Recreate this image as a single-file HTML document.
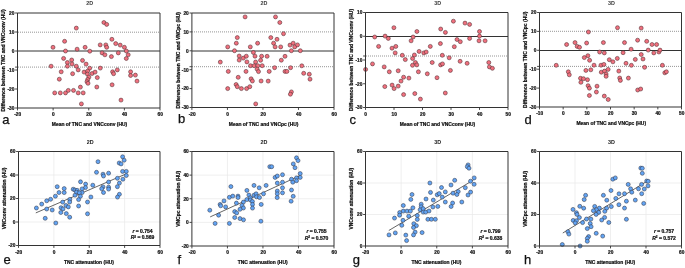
<!DOCTYPE html>
<html><head><meta charset="utf-8"><style>
html,body{margin:0;padding:0;background:#fff;width:685px;height:268px;overflow:hidden}
svg{display:block;will-change:transform}
text{font-family:"Liberation Sans", sans-serif;fill:#111;stroke:#111;stroke-width:0.22px}
.tk{font-size:4.75px;font-weight:bold;fill:#222}
.ttl{font-size:5.4px;font-weight:bold;fill:#3a3a3a;stroke:none}
.axt{font-size:4.95px;font-weight:bold}
.lbl{font-size:13px;fill:#111;stroke-width:0.25px}
.rt{font-size:5.0px;font-weight:bold}
</style></head><body>
<svg width="685" height="268" viewBox="0 0 685 268">
<rect width="685" height="268" fill="#fff"/>
<line x1="17.5" y1="32.2" x2="160" y2="32.2" stroke="#8a8a8a" stroke-width="0.9" stroke-dasharray="1 1" stroke-dashoffset="1.5"/>
<line x1="17.5" y1="51.0" x2="160" y2="51.0" stroke="#333" stroke-width="1"/>
<line x1="17.5" y1="67.1" x2="160" y2="67.1" stroke="#8a8a8a" stroke-width="0.9" stroke-dasharray="1 1" stroke-dashoffset="1.5"/>
<circle cx="76.3" cy="28.1" r="2.0" fill="#f0707e" stroke="#4e2c30" stroke-width="0.55"/>
<circle cx="64.6" cy="41.3" r="2.0" fill="#f0707e" stroke="#4e2c30" stroke-width="0.55"/>
<circle cx="53.0" cy="47.3" r="2.0" fill="#f0707e" stroke="#4e2c30" stroke-width="0.55"/>
<circle cx="65.5" cy="51.0" r="2.0" fill="#f0707e" stroke="#4e2c30" stroke-width="0.55"/>
<circle cx="77.1" cy="49.2" r="2.0" fill="#f0707e" stroke="#4e2c30" stroke-width="0.55"/>
<circle cx="85.1" cy="47.3" r="2.0" fill="#f0707e" stroke="#4e2c30" stroke-width="0.55"/>
<circle cx="103.9" cy="22.5" r="2.0" fill="#f0707e" stroke="#4e2c30" stroke-width="0.55"/>
<circle cx="106.7" cy="24.4" r="2.0" fill="#f0707e" stroke="#4e2c30" stroke-width="0.55"/>
<circle cx="111.9" cy="39.3" r="2.0" fill="#f0707e" stroke="#4e2c30" stroke-width="0.55"/>
<circle cx="100.2" cy="44.9" r="2.0" fill="#f0707e" stroke="#4e2c30" stroke-width="0.55"/>
<circle cx="105.8" cy="44.9" r="2.0" fill="#f0707e" stroke="#4e2c30" stroke-width="0.55"/>
<circle cx="106.7" cy="47.3" r="2.0" fill="#f0707e" stroke="#4e2c30" stroke-width="0.55"/>
<circle cx="115.7" cy="43.6" r="2.0" fill="#f0707e" stroke="#4e2c30" stroke-width="0.55"/>
<circle cx="120.2" cy="45.1" r="2.0" fill="#f0707e" stroke="#4e2c30" stroke-width="0.55"/>
<circle cx="124.4" cy="47.3" r="2.0" fill="#f0707e" stroke="#4e2c30" stroke-width="0.55"/>
<circle cx="126.3" cy="51.0" r="2.0" fill="#f0707e" stroke="#4e2c30" stroke-width="0.55"/>
<circle cx="128.2" cy="54.8" r="2.0" fill="#f0707e" stroke="#4e2c30" stroke-width="0.55"/>
<circle cx="126.3" cy="58.5" r="2.0" fill="#f0707e" stroke="#4e2c30" stroke-width="0.55"/>
<circle cx="89.8" cy="51.2" r="2.0" fill="#f0707e" stroke="#4e2c30" stroke-width="0.55"/>
<circle cx="102.1" cy="52.9" r="2.0" fill="#f0707e" stroke="#4e2c30" stroke-width="0.55"/>
<circle cx="104.9" cy="54.8" r="2.0" fill="#f0707e" stroke="#4e2c30" stroke-width="0.55"/>
<circle cx="111.4" cy="56.6" r="2.0" fill="#f0707e" stroke="#4e2c30" stroke-width="0.55"/>
<circle cx="118.3" cy="52.9" r="2.0" fill="#f0707e" stroke="#4e2c30" stroke-width="0.55"/>
<circle cx="63.6" cy="58.4" r="2.0" fill="#f0707e" stroke="#4e2c30" stroke-width="0.55"/>
<circle cx="67.4" cy="62.5" r="2.0" fill="#f0707e" stroke="#4e2c30" stroke-width="0.55"/>
<circle cx="71.7" cy="60.0" r="2.0" fill="#f0707e" stroke="#4e2c30" stroke-width="0.55"/>
<circle cx="72.0" cy="64.0" r="2.0" fill="#f0707e" stroke="#4e2c30" stroke-width="0.55"/>
<circle cx="67.4" cy="66.2" r="2.0" fill="#f0707e" stroke="#4e2c30" stroke-width="0.55"/>
<circle cx="51.1" cy="66.2" r="2.0" fill="#f0707e" stroke="#4e2c30" stroke-width="0.55"/>
<circle cx="76.3" cy="66.2" r="2.0" fill="#f0707e" stroke="#4e2c30" stroke-width="0.55"/>
<circle cx="78.2" cy="69.9" r="2.0" fill="#f0707e" stroke="#4e2c30" stroke-width="0.55"/>
<circle cx="82.5" cy="60.4" r="2.0" fill="#f0707e" stroke="#4e2c30" stroke-width="0.55"/>
<circle cx="86.1" cy="64.1" r="2.0" fill="#f0707e" stroke="#4e2c30" stroke-width="0.55"/>
<circle cx="61.2" cy="71.8" r="2.0" fill="#f0707e" stroke="#4e2c30" stroke-width="0.55"/>
<circle cx="72.6" cy="73.7" r="2.0" fill="#f0707e" stroke="#4e2c30" stroke-width="0.55"/>
<circle cx="59.3" cy="79.2" r="2.0" fill="#f0707e" stroke="#4e2c30" stroke-width="0.55"/>
<circle cx="80.4" cy="87.1" r="2.0" fill="#f0707e" stroke="#4e2c30" stroke-width="0.55"/>
<circle cx="54.7" cy="92.9" r="2.0" fill="#f0707e" stroke="#4e2c30" stroke-width="0.55"/>
<circle cx="60.3" cy="92.9" r="2.0" fill="#f0707e" stroke="#4e2c30" stroke-width="0.55"/>
<circle cx="65.5" cy="92.9" r="2.0" fill="#f0707e" stroke="#4e2c30" stroke-width="0.55"/>
<circle cx="68.3" cy="90.4" r="2.0" fill="#f0707e" stroke="#4e2c30" stroke-width="0.55"/>
<circle cx="73.5" cy="90.4" r="2.0" fill="#f0707e" stroke="#4e2c30" stroke-width="0.55"/>
<circle cx="78.2" cy="92.9" r="2.0" fill="#f0707e" stroke="#4e2c30" stroke-width="0.55"/>
<circle cx="83.2" cy="92.9" r="2.0" fill="#f0707e" stroke="#4e2c30" stroke-width="0.55"/>
<circle cx="81.4" cy="103.9" r="2.0" fill="#f0707e" stroke="#4e2c30" stroke-width="0.55"/>
<circle cx="89.7" cy="68.2" r="2.0" fill="#f0707e" stroke="#4e2c30" stroke-width="0.55"/>
<circle cx="100.3" cy="68.1" r="2.0" fill="#f0707e" stroke="#4e2c30" stroke-width="0.55"/>
<circle cx="84.1" cy="72.1" r="2.0" fill="#f0707e" stroke="#4e2c30" stroke-width="0.55"/>
<circle cx="87.7" cy="71.1" r="2.0" fill="#f0707e" stroke="#4e2c30" stroke-width="0.55"/>
<circle cx="87.4" cy="74.1" r="2.0" fill="#f0707e" stroke="#4e2c30" stroke-width="0.55"/>
<circle cx="92.1" cy="73.5" r="2.0" fill="#f0707e" stroke="#4e2c30" stroke-width="0.55"/>
<circle cx="95.1" cy="72.1" r="2.0" fill="#f0707e" stroke="#4e2c30" stroke-width="0.55"/>
<circle cx="88.9" cy="77.1" r="2.0" fill="#f0707e" stroke="#4e2c30" stroke-width="0.55"/>
<circle cx="87.7" cy="79.5" r="2.0" fill="#f0707e" stroke="#4e2c30" stroke-width="0.55"/>
<circle cx="87.0" cy="81.7" r="2.0" fill="#f0707e" stroke="#4e2c30" stroke-width="0.55"/>
<circle cx="88.0" cy="83.3" r="2.0" fill="#f0707e" stroke="#4e2c30" stroke-width="0.55"/>
<circle cx="97.3" cy="77.6" r="2.0" fill="#f0707e" stroke="#4e2c30" stroke-width="0.55"/>
<circle cx="112.6" cy="71.8" r="2.0" fill="#f0707e" stroke="#4e2c30" stroke-width="0.55"/>
<circle cx="113.6" cy="73.7" r="2.0" fill="#f0707e" stroke="#4e2c30" stroke-width="0.55"/>
<circle cx="117.3" cy="69.9" r="2.0" fill="#f0707e" stroke="#4e2c30" stroke-width="0.55"/>
<circle cx="130.6" cy="71.8" r="2.0" fill="#f0707e" stroke="#4e2c30" stroke-width="0.55"/>
<circle cx="130.6" cy="75.5" r="2.0" fill="#f0707e" stroke="#4e2c30" stroke-width="0.55"/>
<circle cx="135.4" cy="75.1" r="2.0" fill="#f0707e" stroke="#4e2c30" stroke-width="0.55"/>
<circle cx="137.0" cy="81.1" r="2.0" fill="#f0707e" stroke="#4e2c30" stroke-width="0.55"/>
<circle cx="112.1" cy="84.8" r="2.0" fill="#f0707e" stroke="#4e2c30" stroke-width="0.55"/>
<circle cx="96.8" cy="87.0" r="2.0" fill="#f0707e" stroke="#4e2c30" stroke-width="0.55"/>
<circle cx="121.0" cy="100.1" r="2.0" fill="#f0707e" stroke="#4e2c30" stroke-width="0.55"/>
<path d="M17.5 13H160V108H17.5Z" fill="none" stroke="#333" stroke-width="1"/>
<line x1="17.5" y1="108" x2="17.5" y2="110.4" stroke="#333" stroke-width="0.9"/>
<text x="17.7" y="116.2" class="tk" text-anchor="middle">-20</text>
<line x1="53.12" y1="108" x2="53.12" y2="110.4" stroke="#333" stroke-width="0.9"/>
<text x="53.33" y="116.2" class="tk" text-anchor="middle">0</text>
<line x1="88.75" y1="108" x2="88.75" y2="110.4" stroke="#333" stroke-width="0.9"/>
<text x="88.95" y="116.2" class="tk" text-anchor="middle">20</text>
<line x1="124.38" y1="108" x2="124.38" y2="110.4" stroke="#333" stroke-width="0.9"/>
<text x="124.58" y="116.2" class="tk" text-anchor="middle">40</text>
<line x1="160" y1="108" x2="160" y2="110.4" stroke="#333" stroke-width="0.9"/>
<text x="160.2" y="116.2" class="tk" text-anchor="middle">60</text>
<line x1="15.1" y1="67.1" x2="17.5" y2="67.1" stroke="#333" stroke-width="0.9"/>
<line x1="15.1" y1="108" x2="17.5" y2="108" stroke="#333" stroke-width="0.9"/>
<text x="14.3" y="109.85" class="tk" text-anchor="end">-30</text>
<line x1="15.1" y1="89" x2="17.5" y2="89" stroke="#333" stroke-width="0.9"/>
<text x="14.3" y="90.85" class="tk" text-anchor="end">-20</text>
<line x1="15.1" y1="70" x2="17.5" y2="70" stroke="#333" stroke-width="0.9"/>
<text x="14.3" y="71.85" class="tk" text-anchor="end">-10</text>
<line x1="15.1" y1="51" x2="17.5" y2="51" stroke="#333" stroke-width="0.9"/>
<text x="14.3" y="52.85" class="tk" text-anchor="end">0</text>
<line x1="15.1" y1="32" x2="17.5" y2="32" stroke="#333" stroke-width="0.9"/>
<text x="14.3" y="33.85" class="tk" text-anchor="end">10</text>
<line x1="15.1" y1="13" x2="17.5" y2="13" stroke="#333" stroke-width="0.9"/>
<text x="14.3" y="14.85" class="tk" text-anchor="end">20</text>
<text x="89.65" y="5.3" class="ttl" text-anchor="middle">2D</text>
<text x="89.5" y="126.1" class="axt" text-anchor="middle">Mean of TNC and VNCconv (HU)</text>
<text transform="translate(5.2,60.5) rotate(-90)" class="axt" text-anchor="middle">Difference between TNC and VNCconv (HU)</text>
<text x="2.3" y="123.6" class="lbl">a</text>
<line x1="191.9" y1="31.9" x2="334" y2="31.9" stroke="#8a8a8a" stroke-width="0.9" stroke-dasharray="1 1" stroke-dashoffset="1.9"/>
<line x1="191.9" y1="51.0" x2="334" y2="51.0" stroke="#333" stroke-width="1"/>
<line x1="191.9" y1="66.7" x2="334" y2="66.7" stroke="#8a8a8a" stroke-width="0.9" stroke-dasharray="1 1" stroke-dashoffset="1.9"/>
<circle cx="245.1" cy="16.9" r="2.0" fill="#f0707e" stroke="#4e2c30" stroke-width="0.55"/>
<circle cx="237.3" cy="37.6" r="2.0" fill="#f0707e" stroke="#4e2c30" stroke-width="0.55"/>
<circle cx="236.3" cy="43.2" r="2.0" fill="#f0707e" stroke="#4e2c30" stroke-width="0.55"/>
<circle cx="227.7" cy="46.9" r="2.0" fill="#f0707e" stroke="#4e2c30" stroke-width="0.55"/>
<circle cx="234.5" cy="50.7" r="2.0" fill="#f0707e" stroke="#4e2c30" stroke-width="0.55"/>
<circle cx="250.3" cy="46.9" r="2.0" fill="#f0707e" stroke="#4e2c30" stroke-width="0.55"/>
<circle cx="257.6" cy="43.2" r="2.0" fill="#f0707e" stroke="#4e2c30" stroke-width="0.55"/>
<circle cx="253.4" cy="52.5" r="2.0" fill="#f0707e" stroke="#4e2c30" stroke-width="0.55"/>
<circle cx="239.2" cy="56.0" r="2.0" fill="#f0707e" stroke="#4e2c30" stroke-width="0.55"/>
<circle cx="239.2" cy="60.1" r="2.0" fill="#f0707e" stroke="#4e2c30" stroke-width="0.55"/>
<circle cx="243.3" cy="58.1" r="2.0" fill="#f0707e" stroke="#4e2c30" stroke-width="0.55"/>
<circle cx="246.3" cy="56.2" r="2.0" fill="#f0707e" stroke="#4e2c30" stroke-width="0.55"/>
<circle cx="246.9" cy="61.9" r="2.0" fill="#f0707e" stroke="#4e2c30" stroke-width="0.55"/>
<circle cx="255.0" cy="56.2" r="2.0" fill="#f0707e" stroke="#4e2c30" stroke-width="0.55"/>
<circle cx="261.6" cy="56.2" r="2.0" fill="#f0707e" stroke="#4e2c30" stroke-width="0.55"/>
<circle cx="260.6" cy="60.3" r="2.0" fill="#f0707e" stroke="#4e2c30" stroke-width="0.55"/>
<circle cx="255.6" cy="62.0" r="2.0" fill="#f0707e" stroke="#4e2c30" stroke-width="0.55"/>
<circle cx="250.5" cy="65.7" r="2.0" fill="#f0707e" stroke="#4e2c30" stroke-width="0.55"/>
<circle cx="254.1" cy="65.7" r="2.0" fill="#f0707e" stroke="#4e2c30" stroke-width="0.55"/>
<circle cx="257.8" cy="65.7" r="2.0" fill="#f0707e" stroke="#4e2c30" stroke-width="0.55"/>
<circle cx="262.2" cy="65.7" r="2.0" fill="#f0707e" stroke="#4e2c30" stroke-width="0.55"/>
<circle cx="257.1" cy="69.1" r="2.0" fill="#f0707e" stroke="#4e2c30" stroke-width="0.55"/>
<circle cx="258.5" cy="71.6" r="2.0" fill="#f0707e" stroke="#4e2c30" stroke-width="0.55"/>
<circle cx="246.0" cy="71.4" r="2.0" fill="#f0707e" stroke="#4e2c30" stroke-width="0.55"/>
<circle cx="238.2" cy="77.3" r="2.0" fill="#f0707e" stroke="#4e2c30" stroke-width="0.55"/>
<circle cx="251.1" cy="78.8" r="2.0" fill="#f0707e" stroke="#4e2c30" stroke-width="0.55"/>
<circle cx="252.4" cy="81.0" r="2.0" fill="#f0707e" stroke="#4e2c30" stroke-width="0.55"/>
<circle cx="261.1" cy="81.0" r="2.0" fill="#f0707e" stroke="#4e2c30" stroke-width="0.55"/>
<circle cx="220.3" cy="62.1" r="2.0" fill="#f0707e" stroke="#4e2c30" stroke-width="0.55"/>
<circle cx="228.3" cy="71.4" r="2.0" fill="#f0707e" stroke="#4e2c30" stroke-width="0.55"/>
<circle cx="236.1" cy="84.5" r="2.0" fill="#f0707e" stroke="#4e2c30" stroke-width="0.55"/>
<circle cx="237.3" cy="86.7" r="2.0" fill="#f0707e" stroke="#4e2c30" stroke-width="0.55"/>
<circle cx="241.4" cy="88.6" r="2.0" fill="#f0707e" stroke="#4e2c30" stroke-width="0.55"/>
<circle cx="246.6" cy="88.6" r="2.0" fill="#f0707e" stroke="#4e2c30" stroke-width="0.55"/>
<circle cx="249.8" cy="86.7" r="2.0" fill="#f0707e" stroke="#4e2c30" stroke-width="0.55"/>
<circle cx="227.7" cy="88.6" r="2.0" fill="#f0707e" stroke="#4e2c30" stroke-width="0.55"/>
<circle cx="255.7" cy="103.9" r="2.0" fill="#f0707e" stroke="#4e2c30" stroke-width="0.55"/>
<circle cx="275.5" cy="16.9" r="2.0" fill="#f0707e" stroke="#4e2c30" stroke-width="0.55"/>
<circle cx="279.8" cy="22.5" r="2.0" fill="#f0707e" stroke="#4e2c30" stroke-width="0.55"/>
<circle cx="283.5" cy="33.7" r="2.0" fill="#f0707e" stroke="#4e2c30" stroke-width="0.55"/>
<circle cx="270.8" cy="37.6" r="2.0" fill="#f0707e" stroke="#4e2c30" stroke-width="0.55"/>
<circle cx="277.0" cy="39.3" r="2.0" fill="#f0707e" stroke="#4e2c30" stroke-width="0.55"/>
<circle cx="273.6" cy="43.2" r="2.0" fill="#f0707e" stroke="#4e2c30" stroke-width="0.55"/>
<circle cx="275.1" cy="46.9" r="2.0" fill="#f0707e" stroke="#4e2c30" stroke-width="0.55"/>
<circle cx="280.7" cy="46.9" r="2.0" fill="#f0707e" stroke="#4e2c30" stroke-width="0.55"/>
<circle cx="290.0" cy="45.1" r="2.0" fill="#f0707e" stroke="#4e2c30" stroke-width="0.55"/>
<circle cx="293.2" cy="43.2" r="2.0" fill="#f0707e" stroke="#4e2c30" stroke-width="0.55"/>
<circle cx="294.7" cy="46.9" r="2.0" fill="#f0707e" stroke="#4e2c30" stroke-width="0.55"/>
<circle cx="297.5" cy="44.9" r="2.0" fill="#f0707e" stroke="#4e2c30" stroke-width="0.55"/>
<circle cx="291.4" cy="50.7" r="2.0" fill="#f0707e" stroke="#4e2c30" stroke-width="0.55"/>
<circle cx="300.3" cy="50.7" r="2.0" fill="#f0707e" stroke="#4e2c30" stroke-width="0.55"/>
<circle cx="267.1" cy="56.3" r="2.0" fill="#f0707e" stroke="#4e2c30" stroke-width="0.55"/>
<circle cx="285.0" cy="56.3" r="2.0" fill="#f0707e" stroke="#4e2c30" stroke-width="0.55"/>
<circle cx="281.3" cy="60.2" r="2.0" fill="#f0707e" stroke="#4e2c30" stroke-width="0.55"/>
<circle cx="274.6" cy="67.7" r="2.0" fill="#f0707e" stroke="#4e2c30" stroke-width="0.55"/>
<circle cx="269.2" cy="71.4" r="2.0" fill="#f0707e" stroke="#4e2c30" stroke-width="0.55"/>
<circle cx="285.0" cy="71.4" r="2.0" fill="#f0707e" stroke="#4e2c30" stroke-width="0.55"/>
<circle cx="286.9" cy="71.4" r="2.0" fill="#f0707e" stroke="#4e2c30" stroke-width="0.55"/>
<circle cx="290.6" cy="67.7" r="2.0" fill="#f0707e" stroke="#4e2c30" stroke-width="0.55"/>
<circle cx="301.8" cy="65.8" r="2.0" fill="#f0707e" stroke="#4e2c30" stroke-width="0.55"/>
<circle cx="303.7" cy="73.3" r="2.0" fill="#f0707e" stroke="#4e2c30" stroke-width="0.55"/>
<circle cx="309.3" cy="74.2" r="2.0" fill="#f0707e" stroke="#4e2c30" stroke-width="0.55"/>
<circle cx="310.0" cy="79.2" r="2.0" fill="#f0707e" stroke="#4e2c30" stroke-width="0.55"/>
<circle cx="268.2" cy="81.1" r="2.0" fill="#f0707e" stroke="#4e2c30" stroke-width="0.55"/>
<circle cx="291.4" cy="91.9" r="2.0" fill="#f0707e" stroke="#4e2c30" stroke-width="0.55"/>
<circle cx="290.4" cy="94.2" r="2.0" fill="#f0707e" stroke="#4e2c30" stroke-width="0.55"/>
<path d="M191.9 13H334V107.5H191.9Z" fill="none" stroke="#333" stroke-width="1"/>
<line x1="191.9" y1="107.5" x2="191.9" y2="109.9" stroke="#333" stroke-width="0.9"/>
<text x="192.1" y="115.7" class="tk" text-anchor="middle">-20</text>
<line x1="227.43" y1="107.5" x2="227.43" y2="109.9" stroke="#333" stroke-width="0.9"/>
<text x="227.62" y="115.7" class="tk" text-anchor="middle">0</text>
<line x1="262.95" y1="107.5" x2="262.95" y2="109.9" stroke="#333" stroke-width="0.9"/>
<text x="263.15" y="115.7" class="tk" text-anchor="middle">20</text>
<line x1="298.48" y1="107.5" x2="298.48" y2="109.9" stroke="#333" stroke-width="0.9"/>
<text x="298.68" y="115.7" class="tk" text-anchor="middle">40</text>
<line x1="334" y1="107.5" x2="334" y2="109.9" stroke="#333" stroke-width="0.9"/>
<text x="334.2" y="115.7" class="tk" text-anchor="middle">60</text>
<line x1="189.5" y1="66.7" x2="191.9" y2="66.7" stroke="#333" stroke-width="0.9"/>
<line x1="189.5" y1="107.5" x2="191.9" y2="107.5" stroke="#333" stroke-width="0.9"/>
<text x="188.7" y="109.35" class="tk" text-anchor="end">-30</text>
<line x1="189.5" y1="88.6" x2="191.9" y2="88.6" stroke="#333" stroke-width="0.9"/>
<text x="188.7" y="90.45" class="tk" text-anchor="end">-20</text>
<line x1="189.5" y1="69.7" x2="191.9" y2="69.7" stroke="#333" stroke-width="0.9"/>
<text x="188.7" y="71.55" class="tk" text-anchor="end">-10</text>
<line x1="189.5" y1="50.8" x2="191.9" y2="50.8" stroke="#333" stroke-width="0.9"/>
<text x="188.7" y="52.65" class="tk" text-anchor="end">0</text>
<line x1="189.5" y1="31.9" x2="191.9" y2="31.9" stroke="#333" stroke-width="0.9"/>
<text x="188.7" y="33.75" class="tk" text-anchor="end">10</text>
<line x1="189.5" y1="13" x2="191.9" y2="13" stroke="#333" stroke-width="0.9"/>
<text x="188.7" y="14.85" class="tk" text-anchor="end">20</text>
<text x="263.85" y="5.3" class="ttl" text-anchor="middle">2D</text>
<text x="263.7" y="125.6" class="axt" text-anchor="middle">Mean of TNC and VNCpc (HU)</text>
<text transform="translate(179.6,60.25) rotate(-90)" class="axt" text-anchor="middle">Difference between TNC and VNCpc (HU)</text>
<text x="178.0" y="123.0" class="lbl">b</text>
<line x1="365.5" y1="36.5" x2="508" y2="36.5" stroke="#333" stroke-width="1"/>
<line x1="365.5" y1="56.0" x2="508" y2="56.0" stroke="#8a8a8a" stroke-width="0.9" stroke-dasharray="1 1" stroke-dashoffset="1.5"/>
<circle cx="393.9" cy="27.7" r="2.0" fill="#f0707e" stroke="#4e2c30" stroke-width="0.55"/>
<circle cx="374.7" cy="37.0" r="2.0" fill="#f0707e" stroke="#4e2c30" stroke-width="0.55"/>
<circle cx="385.1" cy="36.1" r="2.0" fill="#f0707e" stroke="#4e2c30" stroke-width="0.55"/>
<circle cx="388.3" cy="38.4" r="2.0" fill="#f0707e" stroke="#4e2c30" stroke-width="0.55"/>
<circle cx="378.6" cy="46.4" r="2.0" fill="#f0707e" stroke="#4e2c30" stroke-width="0.55"/>
<circle cx="392.0" cy="48.2" r="2.0" fill="#f0707e" stroke="#4e2c30" stroke-width="0.55"/>
<circle cx="395.8" cy="46.4" r="2.0" fill="#f0707e" stroke="#4e2c30" stroke-width="0.55"/>
<circle cx="395.2" cy="52.9" r="2.0" fill="#f0707e" stroke="#4e2c30" stroke-width="0.55"/>
<circle cx="402.3" cy="55.3" r="2.0" fill="#f0707e" stroke="#4e2c30" stroke-width="0.55"/>
<circle cx="405.3" cy="59.6" r="2.0" fill="#f0707e" stroke="#4e2c30" stroke-width="0.55"/>
<circle cx="416.9" cy="31.5" r="2.0" fill="#f0707e" stroke="#4e2c30" stroke-width="0.55"/>
<circle cx="413.1" cy="37.0" r="2.0" fill="#f0707e" stroke="#4e2c30" stroke-width="0.55"/>
<circle cx="411.1" cy="40.8" r="2.0" fill="#f0707e" stroke="#4e2c30" stroke-width="0.55"/>
<circle cx="430.3" cy="46.4" r="2.0" fill="#f0707e" stroke="#4e2c30" stroke-width="0.55"/>
<circle cx="419.1" cy="51.4" r="2.0" fill="#f0707e" stroke="#4e2c30" stroke-width="0.55"/>
<circle cx="423.8" cy="52.9" r="2.0" fill="#f0707e" stroke="#4e2c30" stroke-width="0.55"/>
<circle cx="426.2" cy="52.0" r="2.0" fill="#f0707e" stroke="#4e2c30" stroke-width="0.55"/>
<circle cx="414.4" cy="55.0" r="2.0" fill="#f0707e" stroke="#4e2c30" stroke-width="0.55"/>
<circle cx="412.6" cy="58.5" r="2.0" fill="#f0707e" stroke="#4e2c30" stroke-width="0.55"/>
<circle cx="453.4" cy="21.2" r="2.0" fill="#f0707e" stroke="#4e2c30" stroke-width="0.55"/>
<circle cx="465.0" cy="23.1" r="2.0" fill="#f0707e" stroke="#4e2c30" stroke-width="0.55"/>
<circle cx="469.6" cy="24.4" r="2.0" fill="#f0707e" stroke="#4e2c30" stroke-width="0.55"/>
<circle cx="440.7" cy="29.0" r="2.0" fill="#f0707e" stroke="#4e2c30" stroke-width="0.55"/>
<circle cx="445.4" cy="32.4" r="2.0" fill="#f0707e" stroke="#4e2c30" stroke-width="0.55"/>
<circle cx="479.5" cy="31.5" r="2.0" fill="#f0707e" stroke="#4e2c30" stroke-width="0.55"/>
<circle cx="479.5" cy="36.1" r="2.0" fill="#f0707e" stroke="#4e2c30" stroke-width="0.55"/>
<circle cx="479.0" cy="40.8" r="2.0" fill="#f0707e" stroke="#4e2c30" stroke-width="0.55"/>
<circle cx="485.1" cy="40.8" r="2.0" fill="#f0707e" stroke="#4e2c30" stroke-width="0.55"/>
<circle cx="469.6" cy="38.4" r="2.0" fill="#f0707e" stroke="#4e2c30" stroke-width="0.55"/>
<circle cx="457.0" cy="39.5" r="2.0" fill="#f0707e" stroke="#4e2c30" stroke-width="0.55"/>
<circle cx="460.3" cy="41.7" r="2.0" fill="#f0707e" stroke="#4e2c30" stroke-width="0.55"/>
<circle cx="440.4" cy="43.6" r="2.0" fill="#f0707e" stroke="#4e2c30" stroke-width="0.55"/>
<circle cx="454.3" cy="46.7" r="2.0" fill="#f0707e" stroke="#4e2c30" stroke-width="0.55"/>
<circle cx="442.3" cy="55.3" r="2.0" fill="#f0707e" stroke="#4e2c30" stroke-width="0.55"/>
<circle cx="449.2" cy="57.8" r="2.0" fill="#f0707e" stroke="#4e2c30" stroke-width="0.55"/>
<circle cx="365.6" cy="69.4" r="2.0" fill="#f0707e" stroke="#4e2c30" stroke-width="0.55"/>
<circle cx="372.5" cy="63.9" r="2.0" fill="#f0707e" stroke="#4e2c30" stroke-width="0.55"/>
<circle cx="384.2" cy="66.9" r="2.0" fill="#f0707e" stroke="#4e2c30" stroke-width="0.55"/>
<circle cx="389.3" cy="71.8" r="2.0" fill="#f0707e" stroke="#4e2c30" stroke-width="0.55"/>
<circle cx="398.2" cy="70.8" r="2.0" fill="#f0707e" stroke="#4e2c30" stroke-width="0.55"/>
<circle cx="415.4" cy="62.5" r="2.0" fill="#f0707e" stroke="#4e2c30" stroke-width="0.55"/>
<circle cx="416.8" cy="64.9" r="2.0" fill="#f0707e" stroke="#4e2c30" stroke-width="0.55"/>
<circle cx="412.5" cy="65.3" r="2.0" fill="#f0707e" stroke="#4e2c30" stroke-width="0.55"/>
<circle cx="432.2" cy="62.5" r="2.0" fill="#f0707e" stroke="#4e2c30" stroke-width="0.55"/>
<circle cx="418.4" cy="71.8" r="2.0" fill="#f0707e" stroke="#4e2c30" stroke-width="0.55"/>
<circle cx="427.3" cy="73.8" r="2.0" fill="#f0707e" stroke="#4e2c30" stroke-width="0.55"/>
<circle cx="437.0" cy="77.7" r="2.0" fill="#f0707e" stroke="#4e2c30" stroke-width="0.55"/>
<circle cx="403.6" cy="77.2" r="2.0" fill="#f0707e" stroke="#4e2c30" stroke-width="0.55"/>
<circle cx="408.9" cy="78.1" r="2.0" fill="#f0707e" stroke="#4e2c30" stroke-width="0.55"/>
<circle cx="401.0" cy="81.1" r="2.0" fill="#f0707e" stroke="#4e2c30" stroke-width="0.55"/>
<circle cx="392.1" cy="85.1" r="2.0" fill="#f0707e" stroke="#4e2c30" stroke-width="0.55"/>
<circle cx="398.2" cy="86.1" r="2.0" fill="#f0707e" stroke="#4e2c30" stroke-width="0.55"/>
<circle cx="394.1" cy="88.6" r="2.0" fill="#f0707e" stroke="#4e2c30" stroke-width="0.55"/>
<circle cx="384.8" cy="86.6" r="2.0" fill="#f0707e" stroke="#4e2c30" stroke-width="0.55"/>
<circle cx="403.6" cy="94.6" r="2.0" fill="#f0707e" stroke="#4e2c30" stroke-width="0.55"/>
<circle cx="414.8" cy="93.6" r="2.0" fill="#f0707e" stroke="#4e2c30" stroke-width="0.55"/>
<circle cx="420.4" cy="99.1" r="2.0" fill="#f0707e" stroke="#4e2c30" stroke-width="0.55"/>
<circle cx="440.6" cy="64.9" r="2.0" fill="#f0707e" stroke="#4e2c30" stroke-width="0.55"/>
<circle cx="442.5" cy="63.9" r="2.0" fill="#f0707e" stroke="#4e2c30" stroke-width="0.55"/>
<circle cx="460.1" cy="61.3" r="2.0" fill="#f0707e" stroke="#4e2c30" stroke-width="0.55"/>
<circle cx="467.1" cy="63.3" r="2.0" fill="#f0707e" stroke="#4e2c30" stroke-width="0.55"/>
<circle cx="450.4" cy="70.4" r="2.0" fill="#f0707e" stroke="#4e2c30" stroke-width="0.55"/>
<circle cx="488.8" cy="62.5" r="2.0" fill="#f0707e" stroke="#4e2c30" stroke-width="0.55"/>
<circle cx="489.4" cy="66.9" r="2.0" fill="#f0707e" stroke="#4e2c30" stroke-width="0.55"/>
<circle cx="492.4" cy="68.3" r="2.0" fill="#f0707e" stroke="#4e2c30" stroke-width="0.55"/>
<circle cx="445.3" cy="93.0" r="2.0" fill="#f0707e" stroke="#4e2c30" stroke-width="0.55"/>
<path d="M365.5 12.5H508V107.5H365.5Z" fill="none" stroke="#333" stroke-width="1"/>
<line x1="365.5" y1="107.5" x2="365.5" y2="109.9" stroke="#333" stroke-width="0.9"/>
<text x="365.7" y="115.7" class="tk" text-anchor="middle">0</text>
<line x1="394" y1="107.5" x2="394" y2="109.9" stroke="#333" stroke-width="0.9"/>
<text x="394.2" y="115.7" class="tk" text-anchor="middle">10</text>
<line x1="422.5" y1="107.5" x2="422.5" y2="109.9" stroke="#333" stroke-width="0.9"/>
<text x="422.7" y="115.7" class="tk" text-anchor="middle">20</text>
<line x1="451" y1="107.5" x2="451" y2="109.9" stroke="#333" stroke-width="0.9"/>
<text x="451.2" y="115.7" class="tk" text-anchor="middle">30</text>
<line x1="479.5" y1="107.5" x2="479.5" y2="109.9" stroke="#333" stroke-width="0.9"/>
<text x="479.7" y="115.7" class="tk" text-anchor="middle">40</text>
<line x1="508" y1="107.5" x2="508" y2="109.9" stroke="#333" stroke-width="0.9"/>
<text x="508.2" y="115.7" class="tk" text-anchor="middle">50</text>
<line x1="363.1" y1="56.0" x2="365.5" y2="56.0" stroke="#333" stroke-width="0.9"/>
<line x1="363.1" y1="107.5" x2="365.5" y2="107.5" stroke="#333" stroke-width="0.9"/>
<text x="362.3" y="109.35" class="tk" text-anchor="end">-30</text>
<line x1="363.1" y1="83.75" x2="365.5" y2="83.75" stroke="#333" stroke-width="0.9"/>
<text x="362.3" y="85.6" class="tk" text-anchor="end">-20</text>
<line x1="363.1" y1="60" x2="365.5" y2="60" stroke="#333" stroke-width="0.9"/>
<text x="362.3" y="61.85" class="tk" text-anchor="end">-10</text>
<line x1="363.1" y1="36.25" x2="365.5" y2="36.25" stroke="#333" stroke-width="0.9"/>
<text x="362.3" y="38.1" class="tk" text-anchor="end">0</text>
<line x1="363.1" y1="12.5" x2="365.5" y2="12.5" stroke="#333" stroke-width="0.9"/>
<text x="362.3" y="14.35" class="tk" text-anchor="end">10</text>
<text x="437.65" y="4.8" class="ttl" text-anchor="middle">3D</text>
<text x="437.5" y="125.6" class="axt" text-anchor="middle">Mean of TNC and VNCconv (HU)</text>
<text transform="translate(353.2,60) rotate(-90)" class="axt" text-anchor="middle">Difference between TNC and VNCconv (HU)</text>
<text x="349.6" y="123.6" class="lbl">c</text>
<line x1="539.5" y1="31.3" x2="681.5" y2="31.3" stroke="#8a8a8a" stroke-width="0.9" stroke-dasharray="1 1" stroke-dashoffset="1.5"/>
<line x1="539.5" y1="50.5" x2="681.5" y2="50.5" stroke="#333" stroke-width="1"/>
<line x1="539.5" y1="66.4" x2="681.5" y2="66.4" stroke="#8a8a8a" stroke-width="0.9" stroke-dasharray="1 1" stroke-dashoffset="1.5"/>
<circle cx="588.4" cy="32.0" r="2.0" fill="#f0707e" stroke="#4e2c30" stroke-width="0.55"/>
<circle cx="566.6" cy="44.5" r="2.0" fill="#f0707e" stroke="#4e2c30" stroke-width="0.55"/>
<circle cx="575.0" cy="42.6" r="2.0" fill="#f0707e" stroke="#4e2c30" stroke-width="0.55"/>
<circle cx="577.2" cy="46.4" r="2.0" fill="#f0707e" stroke="#4e2c30" stroke-width="0.55"/>
<circle cx="579.5" cy="47.3" r="2.0" fill="#f0707e" stroke="#4e2c30" stroke-width="0.55"/>
<circle cx="586.6" cy="43.0" r="2.0" fill="#f0707e" stroke="#4e2c30" stroke-width="0.55"/>
<circle cx="603.4" cy="42.6" r="2.0" fill="#f0707e" stroke="#4e2c30" stroke-width="0.55"/>
<circle cx="599.6" cy="52.0" r="2.0" fill="#f0707e" stroke="#4e2c30" stroke-width="0.55"/>
<circle cx="604.3" cy="52.9" r="2.0" fill="#f0707e" stroke="#4e2c30" stroke-width="0.55"/>
<circle cx="587.9" cy="55.7" r="2.0" fill="#f0707e" stroke="#4e2c30" stroke-width="0.55"/>
<circle cx="584.3" cy="57.6" r="2.0" fill="#f0707e" stroke="#4e2c30" stroke-width="0.55"/>
<circle cx="589.6" cy="60.3" r="2.0" fill="#f0707e" stroke="#4e2c30" stroke-width="0.55"/>
<circle cx="617.5" cy="27.7" r="2.0" fill="#f0707e" stroke="#4e2c30" stroke-width="0.55"/>
<circle cx="641.2" cy="28.1" r="2.0" fill="#f0707e" stroke="#4e2c30" stroke-width="0.55"/>
<circle cx="624.5" cy="42.6" r="2.0" fill="#f0707e" stroke="#4e2c30" stroke-width="0.55"/>
<circle cx="637.6" cy="40.2" r="2.0" fill="#f0707e" stroke="#4e2c30" stroke-width="0.55"/>
<circle cx="646.7" cy="41.3" r="2.0" fill="#f0707e" stroke="#4e2c30" stroke-width="0.55"/>
<circle cx="652.0" cy="44.5" r="2.0" fill="#f0707e" stroke="#4e2c30" stroke-width="0.55"/>
<circle cx="656.6" cy="44.5" r="2.0" fill="#f0707e" stroke="#4e2c30" stroke-width="0.55"/>
<circle cx="631.1" cy="49.2" r="2.0" fill="#f0707e" stroke="#4e2c30" stroke-width="0.55"/>
<circle cx="623.1" cy="52.7" r="2.0" fill="#f0707e" stroke="#4e2c30" stroke-width="0.55"/>
<circle cx="648.2" cy="50.1" r="2.0" fill="#f0707e" stroke="#4e2c30" stroke-width="0.55"/>
<circle cx="653.8" cy="52.9" r="2.0" fill="#f0707e" stroke="#4e2c30" stroke-width="0.55"/>
<circle cx="658.9" cy="52.0" r="2.0" fill="#f0707e" stroke="#4e2c30" stroke-width="0.55"/>
<circle cx="660.0" cy="50.1" r="2.0" fill="#f0707e" stroke="#4e2c30" stroke-width="0.55"/>
<circle cx="641.2" cy="54.5" r="2.0" fill="#f0707e" stroke="#4e2c30" stroke-width="0.55"/>
<circle cx="617.3" cy="58.4" r="2.0" fill="#f0707e" stroke="#4e2c30" stroke-width="0.55"/>
<circle cx="635.3" cy="59.4" r="2.0" fill="#f0707e" stroke="#4e2c30" stroke-width="0.55"/>
<circle cx="643.0" cy="59.0" r="2.0" fill="#f0707e" stroke="#4e2c30" stroke-width="0.55"/>
<circle cx="556.2" cy="65.3" r="2.0" fill="#f0707e" stroke="#4e2c30" stroke-width="0.55"/>
<circle cx="568.3" cy="71.8" r="2.0" fill="#f0707e" stroke="#4e2c30" stroke-width="0.55"/>
<circle cx="569.3" cy="74.8" r="2.0" fill="#f0707e" stroke="#4e2c30" stroke-width="0.55"/>
<circle cx="594.0" cy="65.2" r="2.0" fill="#f0707e" stroke="#4e2c30" stroke-width="0.55"/>
<circle cx="585.9" cy="70.4" r="2.0" fill="#f0707e" stroke="#4e2c30" stroke-width="0.55"/>
<circle cx="590.8" cy="69.8" r="2.0" fill="#f0707e" stroke="#4e2c30" stroke-width="0.55"/>
<circle cx="580.5" cy="78.3" r="2.0" fill="#f0707e" stroke="#4e2c30" stroke-width="0.55"/>
<circle cx="583.5" cy="78.7" r="2.0" fill="#f0707e" stroke="#4e2c30" stroke-width="0.55"/>
<circle cx="587.5" cy="79.7" r="2.0" fill="#f0707e" stroke="#4e2c30" stroke-width="0.55"/>
<circle cx="580.9" cy="82.3" r="2.0" fill="#f0707e" stroke="#4e2c30" stroke-width="0.55"/>
<circle cx="588.1" cy="85.7" r="2.0" fill="#f0707e" stroke="#4e2c30" stroke-width="0.55"/>
<circle cx="589.4" cy="88.2" r="2.0" fill="#f0707e" stroke="#4e2c30" stroke-width="0.55"/>
<circle cx="597.0" cy="86.2" r="2.0" fill="#f0707e" stroke="#4e2c30" stroke-width="0.55"/>
<circle cx="596.4" cy="92.0" r="2.0" fill="#f0707e" stroke="#4e2c30" stroke-width="0.55"/>
<circle cx="589.4" cy="95.5" r="2.0" fill="#f0707e" stroke="#4e2c30" stroke-width="0.55"/>
<circle cx="604.3" cy="96.1" r="2.0" fill="#f0707e" stroke="#4e2c30" stroke-width="0.55"/>
<circle cx="608.2" cy="99.5" r="2.0" fill="#f0707e" stroke="#4e2c30" stroke-width="0.55"/>
<circle cx="609.3" cy="59.7" r="2.0" fill="#f0707e" stroke="#4e2c30" stroke-width="0.55"/>
<circle cx="612.9" cy="61.8" r="2.0" fill="#f0707e" stroke="#4e2c30" stroke-width="0.55"/>
<circle cx="626.0" cy="63.3" r="2.0" fill="#f0707e" stroke="#4e2c30" stroke-width="0.55"/>
<circle cx="601.0" cy="65.2" r="2.0" fill="#f0707e" stroke="#4e2c30" stroke-width="0.55"/>
<circle cx="603.9" cy="64.4" r="2.0" fill="#f0707e" stroke="#4e2c30" stroke-width="0.55"/>
<circle cx="601.3" cy="72.2" r="2.0" fill="#f0707e" stroke="#4e2c30" stroke-width="0.55"/>
<circle cx="604.5" cy="71.1" r="2.0" fill="#f0707e" stroke="#4e2c30" stroke-width="0.55"/>
<circle cx="608.1" cy="69.4" r="2.0" fill="#f0707e" stroke="#4e2c30" stroke-width="0.55"/>
<circle cx="606.1" cy="74.1" r="2.0" fill="#f0707e" stroke="#4e2c30" stroke-width="0.55"/>
<circle cx="606.1" cy="76.3" r="2.0" fill="#f0707e" stroke="#4e2c30" stroke-width="0.55"/>
<circle cx="618.8" cy="71.1" r="2.0" fill="#f0707e" stroke="#4e2c30" stroke-width="0.55"/>
<circle cx="619.7" cy="78.0" r="2.0" fill="#f0707e" stroke="#4e2c30" stroke-width="0.55"/>
<circle cx="620.4" cy="80.4" r="2.0" fill="#f0707e" stroke="#4e2c30" stroke-width="0.55"/>
<circle cx="631.4" cy="65.3" r="2.0" fill="#f0707e" stroke="#4e2c30" stroke-width="0.55"/>
<circle cx="644.6" cy="67.3" r="2.0" fill="#f0707e" stroke="#4e2c30" stroke-width="0.55"/>
<circle cx="662.4" cy="65.3" r="2.0" fill="#f0707e" stroke="#4e2c30" stroke-width="0.55"/>
<circle cx="664.8" cy="72.8" r="2.0" fill="#f0707e" stroke="#4e2c30" stroke-width="0.55"/>
<circle cx="666.4" cy="71.8" r="2.0" fill="#f0707e" stroke="#4e2c30" stroke-width="0.55"/>
<circle cx="628.4" cy="78.1" r="2.0" fill="#f0707e" stroke="#4e2c30" stroke-width="0.55"/>
<circle cx="637.7" cy="90.0" r="2.0" fill="#f0707e" stroke="#4e2c30" stroke-width="0.55"/>
<circle cx="640.7" cy="89.0" r="2.0" fill="#f0707e" stroke="#4e2c30" stroke-width="0.55"/>
<path d="M539.5 12.5H681.5V107H539.5Z" fill="none" stroke="#333" stroke-width="1"/>
<line x1="539.5" y1="107" x2="539.5" y2="109.4" stroke="#333" stroke-width="0.9"/>
<text x="539.7" y="115.2" class="tk" text-anchor="middle">-10</text>
<line x1="563.17" y1="107" x2="563.17" y2="109.4" stroke="#333" stroke-width="0.9"/>
<text x="563.37" y="115.2" class="tk" text-anchor="middle">0</text>
<line x1="586.83" y1="107" x2="586.83" y2="109.4" stroke="#333" stroke-width="0.9"/>
<text x="587.03" y="115.2" class="tk" text-anchor="middle">10</text>
<line x1="610.5" y1="107" x2="610.5" y2="109.4" stroke="#333" stroke-width="0.9"/>
<text x="610.7" y="115.2" class="tk" text-anchor="middle">20</text>
<line x1="634.17" y1="107" x2="634.17" y2="109.4" stroke="#333" stroke-width="0.9"/>
<text x="634.37" y="115.2" class="tk" text-anchor="middle">30</text>
<line x1="657.83" y1="107" x2="657.83" y2="109.4" stroke="#333" stroke-width="0.9"/>
<text x="658.03" y="115.2" class="tk" text-anchor="middle">40</text>
<line x1="681.5" y1="107" x2="681.5" y2="109.4" stroke="#333" stroke-width="0.9"/>
<text x="681.7" y="115.2" class="tk" text-anchor="middle">50</text>
<line x1="537.1" y1="66.4" x2="539.5" y2="66.4" stroke="#333" stroke-width="0.9"/>
<line x1="537.1" y1="107" x2="539.5" y2="107" stroke="#333" stroke-width="0.9"/>
<text x="536.3" y="108.85" class="tk" text-anchor="end">-30</text>
<line x1="537.1" y1="88.1" x2="539.5" y2="88.1" stroke="#333" stroke-width="0.9"/>
<text x="536.3" y="89.95" class="tk" text-anchor="end">-20</text>
<line x1="537.1" y1="69.2" x2="539.5" y2="69.2" stroke="#333" stroke-width="0.9"/>
<text x="536.3" y="71.05" class="tk" text-anchor="end">-10</text>
<line x1="537.1" y1="50.3" x2="539.5" y2="50.3" stroke="#333" stroke-width="0.9"/>
<text x="536.3" y="52.15" class="tk" text-anchor="end">0</text>
<line x1="537.1" y1="31.4" x2="539.5" y2="31.4" stroke="#333" stroke-width="0.9"/>
<text x="536.3" y="33.25" class="tk" text-anchor="end">10</text>
<line x1="537.1" y1="12.5" x2="539.5" y2="12.5" stroke="#333" stroke-width="0.9"/>
<text x="536.3" y="14.35" class="tk" text-anchor="end">20</text>
<text x="611.4" y="4.8" class="ttl" text-anchor="middle">3D</text>
<text x="611.25" y="125.1" class="axt" text-anchor="middle">Mean of TNC and VNCpc (HU)</text>
<text transform="translate(527.2,59.75) rotate(-90)" class="axt" text-anchor="middle">Difference between TNC and VNCpc (HU)</text>
<text x="524.5" y="123.6" class="lbl">d</text>
<line x1="53.88" y1="151.5" x2="53.88" y2="245.5" stroke="#e8e8e8" stroke-width="0.7"/>
<line x1="89.25" y1="151.5" x2="89.25" y2="245.5" stroke="#e8e8e8" stroke-width="0.7"/>
<line x1="124.62" y1="151.5" x2="124.62" y2="245.5" stroke="#e8e8e8" stroke-width="0.7"/>
<line x1="18.5" y1="222" x2="160" y2="222" stroke="#e8e8e8" stroke-width="0.7"/>
<line x1="18.5" y1="198.5" x2="160" y2="198.5" stroke="#e8e8e8" stroke-width="0.7"/>
<line x1="18.5" y1="175" x2="160" y2="175" stroke="#e8e8e8" stroke-width="0.7"/>
<line x1="35.8" y1="212.9" x2="125.2" y2="174.3" stroke="#222" stroke-width="0.7"/>
<circle cx="80.5" cy="181.8" r="2.0" fill="#62a4f4" stroke="#33394a" stroke-width="0.55"/>
<circle cx="85.6" cy="184.1" r="2.0" fill="#62a4f4" stroke="#33394a" stroke-width="0.55"/>
<circle cx="92.8" cy="185.2" r="2.0" fill="#62a4f4" stroke="#33394a" stroke-width="0.55"/>
<circle cx="85.5" cy="187.6" r="2.0" fill="#62a4f4" stroke="#33394a" stroke-width="0.55"/>
<circle cx="57.2" cy="186.7" r="2.0" fill="#62a4f4" stroke="#33394a" stroke-width="0.55"/>
<circle cx="64.2" cy="188.6" r="2.0" fill="#62a4f4" stroke="#33394a" stroke-width="0.55"/>
<circle cx="64.2" cy="192.6" r="2.0" fill="#62a4f4" stroke="#33394a" stroke-width="0.55"/>
<circle cx="59.0" cy="192.5" r="2.0" fill="#62a4f4" stroke="#33394a" stroke-width="0.55"/>
<circle cx="55.4" cy="196.2" r="2.0" fill="#62a4f4" stroke="#33394a" stroke-width="0.55"/>
<circle cx="73.2" cy="189.2" r="2.0" fill="#62a4f4" stroke="#33394a" stroke-width="0.55"/>
<circle cx="74.9" cy="190.0" r="2.0" fill="#62a4f4" stroke="#33394a" stroke-width="0.55"/>
<circle cx="77.1" cy="190.3" r="2.0" fill="#62a4f4" stroke="#33394a" stroke-width="0.55"/>
<circle cx="82.1" cy="188.9" r="2.0" fill="#62a4f4" stroke="#33394a" stroke-width="0.55"/>
<circle cx="76.5" cy="192.2" r="2.0" fill="#62a4f4" stroke="#33394a" stroke-width="0.55"/>
<circle cx="82.1" cy="192.6" r="2.0" fill="#62a4f4" stroke="#33394a" stroke-width="0.55"/>
<circle cx="79.3" cy="192.8" r="2.0" fill="#62a4f4" stroke="#33394a" stroke-width="0.55"/>
<circle cx="75.0" cy="195.2" r="2.0" fill="#62a4f4" stroke="#33394a" stroke-width="0.55"/>
<circle cx="80.4" cy="196.3" r="2.0" fill="#62a4f4" stroke="#33394a" stroke-width="0.55"/>
<circle cx="90.9" cy="197.0" r="2.0" fill="#62a4f4" stroke="#33394a" stroke-width="0.55"/>
<circle cx="78.6" cy="199.6" r="2.0" fill="#62a4f4" stroke="#33394a" stroke-width="0.55"/>
<circle cx="87.5" cy="202.0" r="2.0" fill="#62a4f4" stroke="#33394a" stroke-width="0.55"/>
<circle cx="69.8" cy="199.4" r="2.0" fill="#62a4f4" stroke="#33394a" stroke-width="0.55"/>
<circle cx="69.7" cy="202.0" r="2.0" fill="#62a4f4" stroke="#33394a" stroke-width="0.55"/>
<circle cx="62.7" cy="202.1" r="2.0" fill="#62a4f4" stroke="#33394a" stroke-width="0.55"/>
<circle cx="66.0" cy="205.5" r="2.0" fill="#62a4f4" stroke="#33394a" stroke-width="0.55"/>
<circle cx="78.6" cy="206.0" r="2.0" fill="#62a4f4" stroke="#33394a" stroke-width="0.55"/>
<circle cx="36.4" cy="208.0" r="2.0" fill="#62a4f4" stroke="#33394a" stroke-width="0.55"/>
<circle cx="41.7" cy="204.1" r="2.0" fill="#62a4f4" stroke="#33394a" stroke-width="0.55"/>
<circle cx="46.7" cy="200.8" r="2.0" fill="#62a4f4" stroke="#33394a" stroke-width="0.55"/>
<circle cx="50.6" cy="199.3" r="2.0" fill="#62a4f4" stroke="#33394a" stroke-width="0.55"/>
<circle cx="46.7" cy="209.0" r="2.0" fill="#62a4f4" stroke="#33394a" stroke-width="0.55"/>
<circle cx="52.2" cy="210.0" r="2.0" fill="#62a4f4" stroke="#33394a" stroke-width="0.55"/>
<circle cx="45.2" cy="218.3" r="2.0" fill="#62a4f4" stroke="#33394a" stroke-width="0.55"/>
<circle cx="55.8" cy="223.0" r="2.0" fill="#62a4f4" stroke="#33394a" stroke-width="0.55"/>
<circle cx="61.0" cy="207.7" r="2.0" fill="#62a4f4" stroke="#33394a" stroke-width="0.55"/>
<circle cx="63.0" cy="208.9" r="2.0" fill="#62a4f4" stroke="#33394a" stroke-width="0.55"/>
<circle cx="68.3" cy="206.9" r="2.0" fill="#62a4f4" stroke="#33394a" stroke-width="0.55"/>
<circle cx="60.8" cy="212.5" r="2.0" fill="#62a4f4" stroke="#33394a" stroke-width="0.55"/>
<circle cx="66.3" cy="213.6" r="2.0" fill="#62a4f4" stroke="#33394a" stroke-width="0.55"/>
<circle cx="69.7" cy="217.2" r="2.0" fill="#62a4f4" stroke="#33394a" stroke-width="0.55"/>
<circle cx="87.5" cy="213.8" r="2.0" fill="#62a4f4" stroke="#33394a" stroke-width="0.55"/>
<circle cx="122.6" cy="156.8" r="2.0" fill="#62a4f4" stroke="#33394a" stroke-width="0.55"/>
<circle cx="124.1" cy="160.2" r="2.0" fill="#62a4f4" stroke="#33394a" stroke-width="0.55"/>
<circle cx="119.2" cy="163.0" r="2.0" fill="#62a4f4" stroke="#33394a" stroke-width="0.55"/>
<circle cx="121.1" cy="163.9" r="2.0" fill="#62a4f4" stroke="#33394a" stroke-width="0.55"/>
<circle cx="98.0" cy="161.7" r="2.0" fill="#62a4f4" stroke="#33394a" stroke-width="0.55"/>
<circle cx="96.5" cy="172.3" r="2.0" fill="#62a4f4" stroke="#33394a" stroke-width="0.55"/>
<circle cx="103.0" cy="174.2" r="2.0" fill="#62a4f4" stroke="#33394a" stroke-width="0.55"/>
<circle cx="103.5" cy="176.0" r="2.0" fill="#62a4f4" stroke="#33394a" stroke-width="0.55"/>
<circle cx="108.6" cy="173.2" r="2.0" fill="#62a4f4" stroke="#33394a" stroke-width="0.55"/>
<circle cx="122.6" cy="171.4" r="2.0" fill="#62a4f4" stroke="#33394a" stroke-width="0.55"/>
<circle cx="126.3" cy="171.4" r="2.0" fill="#62a4f4" stroke="#33394a" stroke-width="0.55"/>
<circle cx="126.3" cy="175.5" r="2.0" fill="#62a4f4" stroke="#33394a" stroke-width="0.55"/>
<circle cx="117.4" cy="178.3" r="2.0" fill="#62a4f4" stroke="#33394a" stroke-width="0.55"/>
<circle cx="122.9" cy="179.2" r="2.0" fill="#62a4f4" stroke="#33394a" stroke-width="0.55"/>
<circle cx="108.6" cy="182.0" r="2.0" fill="#62a4f4" stroke="#33394a" stroke-width="0.55"/>
<circle cx="119.4" cy="183.1" r="2.0" fill="#62a4f4" stroke="#33394a" stroke-width="0.55"/>
<circle cx="117.4" cy="186.7" r="2.0" fill="#62a4f4" stroke="#33394a" stroke-width="0.55"/>
<circle cx="103.0" cy="186.9" r="2.0" fill="#62a4f4" stroke="#33394a" stroke-width="0.55"/>
<circle cx="101.7" cy="188.7" r="2.0" fill="#62a4f4" stroke="#33394a" stroke-width="0.55"/>
<circle cx="108.6" cy="187.2" r="2.0" fill="#62a4f4" stroke="#33394a" stroke-width="0.55"/>
<circle cx="108.6" cy="189.1" r="2.0" fill="#62a4f4" stroke="#33394a" stroke-width="0.55"/>
<circle cx="103.5" cy="192.5" r="2.0" fill="#62a4f4" stroke="#33394a" stroke-width="0.55"/>
<circle cx="119.4" cy="194.3" r="2.0" fill="#62a4f4" stroke="#33394a" stroke-width="0.55"/>
<circle cx="117.5" cy="197.1" r="2.0" fill="#62a4f4" stroke="#33394a" stroke-width="0.55"/>
<path d="M18.5 151.5H160V245.5H18.5Z" fill="none" stroke="#333" stroke-width="1"/>
<line x1="18.5" y1="245.5" x2="18.5" y2="247.9" stroke="#333" stroke-width="0.9"/>
<text x="18.7" y="253.7" class="tk" text-anchor="middle">-20</text>
<line x1="53.88" y1="245.5" x2="53.88" y2="247.9" stroke="#333" stroke-width="0.9"/>
<text x="54.08" y="253.7" class="tk" text-anchor="middle">0</text>
<line x1="89.25" y1="245.5" x2="89.25" y2="247.9" stroke="#333" stroke-width="0.9"/>
<text x="89.45" y="253.7" class="tk" text-anchor="middle">20</text>
<line x1="124.62" y1="245.5" x2="124.62" y2="247.9" stroke="#333" stroke-width="0.9"/>
<text x="124.83" y="253.7" class="tk" text-anchor="middle">40</text>
<line x1="160" y1="245.5" x2="160" y2="247.9" stroke="#333" stroke-width="0.9"/>
<text x="160.2" y="253.7" class="tk" text-anchor="middle">60</text>
<line x1="16.1" y1="245.5" x2="18.5" y2="245.5" stroke="#333" stroke-width="0.9"/>
<text x="15.3" y="247.35" class="tk" text-anchor="end">-20</text>
<line x1="16.1" y1="222" x2="18.5" y2="222" stroke="#333" stroke-width="0.9"/>
<text x="15.3" y="223.85" class="tk" text-anchor="end">0</text>
<line x1="16.1" y1="198.5" x2="18.5" y2="198.5" stroke="#333" stroke-width="0.9"/>
<text x="15.3" y="200.35" class="tk" text-anchor="end">20</text>
<line x1="16.1" y1="175" x2="18.5" y2="175" stroke="#333" stroke-width="0.9"/>
<text x="15.3" y="176.85" class="tk" text-anchor="end">40</text>
<line x1="16.1" y1="151.5" x2="18.5" y2="151.5" stroke="#333" stroke-width="0.9"/>
<text x="15.3" y="153.35" class="tk" text-anchor="end">60</text>
<text x="90.15" y="143.8" class="ttl" text-anchor="middle" style="fill:#1a1a1a">2D</text>
<text x="88.95" y="263.6" class="axt" text-anchor="middle">TNC attenuation (HU)</text>
<text transform="translate(6.2,198.5) rotate(-90)" class="axt" text-anchor="middle">VNCconv attenuation (HU)</text>
<text x="3.6" y="264.3" class="lbl">e</text>
<text x="152.6" y="232.9" class="rt" text-anchor="end"><tspan font-style="italic">r</tspan> = 0.754</text>
<text x="154.3" y="239.3" class="rt" text-anchor="end"><tspan font-style="italic">R</tspan><tspan dy="-1.7" font-size="3.2">2</tspan><tspan dy="1.7"> = 0.569</tspan></text>
<line x1="227.43" y1="151.5" x2="227.43" y2="246" stroke="#e8e8e8" stroke-width="0.7"/>
<line x1="262.95" y1="151.5" x2="262.95" y2="246" stroke="#e8e8e8" stroke-width="0.7"/>
<line x1="298.48" y1="151.5" x2="298.48" y2="246" stroke="#e8e8e8" stroke-width="0.7"/>
<line x1="191.9" y1="222.38" x2="334" y2="222.38" stroke="#e8e8e8" stroke-width="0.7"/>
<line x1="191.9" y1="198.75" x2="334" y2="198.75" stroke="#e8e8e8" stroke-width="0.7"/>
<line x1="191.9" y1="175.12" x2="334" y2="175.12" stroke="#e8e8e8" stroke-width="0.7"/>
<line x1="210.2" y1="216.9" x2="299.5" y2="175.8" stroke="#222" stroke-width="0.7"/>
<circle cx="230.9" cy="186.6" r="2.0" fill="#62a4f4" stroke="#33394a" stroke-width="0.55"/>
<circle cx="254.0" cy="185.4" r="2.0" fill="#62a4f4" stroke="#33394a" stroke-width="0.55"/>
<circle cx="259.2" cy="187.8" r="2.0" fill="#62a4f4" stroke="#33394a" stroke-width="0.55"/>
<circle cx="246.9" cy="190.4" r="2.0" fill="#62a4f4" stroke="#33394a" stroke-width="0.55"/>
<circle cx="229.4" cy="197.3" r="2.0" fill="#62a4f4" stroke="#33394a" stroke-width="0.55"/>
<circle cx="232.8" cy="196.1" r="2.0" fill="#62a4f4" stroke="#33394a" stroke-width="0.55"/>
<circle cx="238.0" cy="196.1" r="2.0" fill="#62a4f4" stroke="#33394a" stroke-width="0.55"/>
<circle cx="238.0" cy="197.5" r="2.0" fill="#62a4f4" stroke="#33394a" stroke-width="0.55"/>
<circle cx="224.0" cy="200.9" r="2.0" fill="#62a4f4" stroke="#33394a" stroke-width="0.55"/>
<circle cx="225.6" cy="206.9" r="2.0" fill="#62a4f4" stroke="#33394a" stroke-width="0.55"/>
<circle cx="220.1" cy="204.4" r="2.0" fill="#62a4f4" stroke="#33394a" stroke-width="0.55"/>
<circle cx="220.7" cy="205.8" r="2.0" fill="#62a4f4" stroke="#33394a" stroke-width="0.55"/>
<circle cx="209.8" cy="210.2" r="2.0" fill="#62a4f4" stroke="#33394a" stroke-width="0.55"/>
<circle cx="218.6" cy="215.2" r="2.0" fill="#62a4f4" stroke="#33394a" stroke-width="0.55"/>
<circle cx="215.1" cy="223.4" r="2.0" fill="#62a4f4" stroke="#33394a" stroke-width="0.55"/>
<circle cx="229.4" cy="223.4" r="2.0" fill="#62a4f4" stroke="#33394a" stroke-width="0.55"/>
<circle cx="248.9" cy="195.1" r="2.0" fill="#62a4f4" stroke="#33394a" stroke-width="0.55"/>
<circle cx="250.3" cy="197.8" r="2.0" fill="#62a4f4" stroke="#33394a" stroke-width="0.55"/>
<circle cx="254.0" cy="195.2" r="2.0" fill="#62a4f4" stroke="#33394a" stroke-width="0.55"/>
<circle cx="256.1" cy="193.8" r="2.0" fill="#62a4f4" stroke="#33394a" stroke-width="0.55"/>
<circle cx="256.5" cy="196.8" r="2.0" fill="#62a4f4" stroke="#33394a" stroke-width="0.55"/>
<circle cx="259.5" cy="197.5" r="2.0" fill="#62a4f4" stroke="#33394a" stroke-width="0.55"/>
<circle cx="263.5" cy="193.8" r="2.0" fill="#62a4f4" stroke="#33394a" stroke-width="0.55"/>
<circle cx="246.8" cy="199.6" r="2.0" fill="#62a4f4" stroke="#33394a" stroke-width="0.55"/>
<circle cx="250.4" cy="200.0" r="2.0" fill="#62a4f4" stroke="#33394a" stroke-width="0.55"/>
<circle cx="252.4" cy="201.5" r="2.0" fill="#62a4f4" stroke="#33394a" stroke-width="0.55"/>
<circle cx="252.5" cy="204.4" r="2.0" fill="#62a4f4" stroke="#33394a" stroke-width="0.55"/>
<circle cx="252.5" cy="208.1" r="2.0" fill="#62a4f4" stroke="#33394a" stroke-width="0.55"/>
<circle cx="243.4" cy="202.1" r="2.0" fill="#62a4f4" stroke="#33394a" stroke-width="0.55"/>
<circle cx="242.0" cy="205.4" r="2.0" fill="#62a4f4" stroke="#33394a" stroke-width="0.55"/>
<circle cx="243.4" cy="208.0" r="2.0" fill="#62a4f4" stroke="#33394a" stroke-width="0.55"/>
<circle cx="240.0" cy="209.3" r="2.0" fill="#62a4f4" stroke="#33394a" stroke-width="0.55"/>
<circle cx="236.4" cy="203.1" r="2.0" fill="#62a4f4" stroke="#33394a" stroke-width="0.55"/>
<circle cx="261.2" cy="204.4" r="2.0" fill="#62a4f4" stroke="#33394a" stroke-width="0.55"/>
<circle cx="234.7" cy="211.6" r="2.0" fill="#62a4f4" stroke="#33394a" stroke-width="0.55"/>
<circle cx="236.7" cy="212.9" r="2.0" fill="#62a4f4" stroke="#33394a" stroke-width="0.55"/>
<circle cx="234.7" cy="217.5" r="2.0" fill="#62a4f4" stroke="#33394a" stroke-width="0.55"/>
<circle cx="240.0" cy="218.6" r="2.0" fill="#62a4f4" stroke="#33394a" stroke-width="0.55"/>
<circle cx="243.5" cy="219.8" r="2.0" fill="#62a4f4" stroke="#33394a" stroke-width="0.55"/>
<circle cx="260.9" cy="221.2" r="2.0" fill="#62a4f4" stroke="#33394a" stroke-width="0.55"/>
<circle cx="296.5" cy="157.8" r="2.0" fill="#62a4f4" stroke="#33394a" stroke-width="0.55"/>
<circle cx="298.0" cy="160.6" r="2.0" fill="#62a4f4" stroke="#33394a" stroke-width="0.55"/>
<circle cx="293.3" cy="163.9" r="2.0" fill="#62a4f4" stroke="#33394a" stroke-width="0.55"/>
<circle cx="295.0" cy="167.7" r="2.0" fill="#62a4f4" stroke="#33394a" stroke-width="0.55"/>
<circle cx="269.8" cy="166.7" r="2.0" fill="#62a4f4" stroke="#33394a" stroke-width="0.55"/>
<circle cx="271.7" cy="166.7" r="2.0" fill="#62a4f4" stroke="#33394a" stroke-width="0.55"/>
<circle cx="282.5" cy="174.7" r="2.0" fill="#62a4f4" stroke="#33394a" stroke-width="0.55"/>
<circle cx="275.1" cy="177.4" r="2.0" fill="#62a4f4" stroke="#33394a" stroke-width="0.55"/>
<circle cx="277.3" cy="176.0" r="2.0" fill="#62a4f4" stroke="#33394a" stroke-width="0.55"/>
<circle cx="300.2" cy="173.6" r="2.0" fill="#62a4f4" stroke="#33394a" stroke-width="0.55"/>
<circle cx="300.2" cy="177.4" r="2.0" fill="#62a4f4" stroke="#33394a" stroke-width="0.55"/>
<circle cx="296.5" cy="177.9" r="2.0" fill="#62a4f4" stroke="#33394a" stroke-width="0.55"/>
<circle cx="291.5" cy="179.2" r="2.0" fill="#62a4f4" stroke="#33394a" stroke-width="0.55"/>
<circle cx="292.8" cy="182.2" r="2.0" fill="#62a4f4" stroke="#33394a" stroke-width="0.55"/>
<circle cx="296.5" cy="180.7" r="2.0" fill="#62a4f4" stroke="#33394a" stroke-width="0.55"/>
<circle cx="266.1" cy="185.4" r="2.0" fill="#62a4f4" stroke="#33394a" stroke-width="0.55"/>
<circle cx="277.3" cy="183.1" r="2.0" fill="#62a4f4" stroke="#33394a" stroke-width="0.55"/>
<circle cx="282.5" cy="182.2" r="2.0" fill="#62a4f4" stroke="#33394a" stroke-width="0.55"/>
<circle cx="282.5" cy="187.8" r="2.0" fill="#62a4f4" stroke="#33394a" stroke-width="0.55"/>
<circle cx="291.5" cy="190.0" r="2.0" fill="#62a4f4" stroke="#33394a" stroke-width="0.55"/>
<circle cx="277.3" cy="191.0" r="2.0" fill="#62a4f4" stroke="#33394a" stroke-width="0.55"/>
<circle cx="277.3" cy="193.8" r="2.0" fill="#62a4f4" stroke="#33394a" stroke-width="0.55"/>
<circle cx="282.5" cy="192.8" r="2.0" fill="#62a4f4" stroke="#33394a" stroke-width="0.55"/>
<circle cx="293.2" cy="196.3" r="2.0" fill="#62a4f4" stroke="#33394a" stroke-width="0.55"/>
<circle cx="277.2" cy="197.6" r="2.0" fill="#62a4f4" stroke="#33394a" stroke-width="0.55"/>
<circle cx="291.1" cy="201.2" r="2.0" fill="#62a4f4" stroke="#33394a" stroke-width="0.55"/>
<path d="M191.9 151.5H334V246H191.9Z" fill="none" stroke="#333" stroke-width="1"/>
<line x1="191.9" y1="246" x2="191.9" y2="248.4" stroke="#333" stroke-width="0.9"/>
<text x="192.1" y="254.2" class="tk" text-anchor="middle">-20</text>
<line x1="227.43" y1="246" x2="227.43" y2="248.4" stroke="#333" stroke-width="0.9"/>
<text x="227.62" y="254.2" class="tk" text-anchor="middle">0</text>
<line x1="262.95" y1="246" x2="262.95" y2="248.4" stroke="#333" stroke-width="0.9"/>
<text x="263.15" y="254.2" class="tk" text-anchor="middle">20</text>
<line x1="298.48" y1="246" x2="298.48" y2="248.4" stroke="#333" stroke-width="0.9"/>
<text x="298.68" y="254.2" class="tk" text-anchor="middle">40</text>
<line x1="334" y1="246" x2="334" y2="248.4" stroke="#333" stroke-width="0.9"/>
<text x="334.2" y="254.2" class="tk" text-anchor="middle">60</text>
<line x1="189.5" y1="246" x2="191.9" y2="246" stroke="#333" stroke-width="0.9"/>
<text x="188.7" y="247.85" class="tk" text-anchor="end">-20</text>
<line x1="189.5" y1="222.38" x2="191.9" y2="222.38" stroke="#333" stroke-width="0.9"/>
<text x="188.7" y="224.22" class="tk" text-anchor="end">0</text>
<line x1="189.5" y1="198.75" x2="191.9" y2="198.75" stroke="#333" stroke-width="0.9"/>
<text x="188.7" y="200.6" class="tk" text-anchor="end">20</text>
<line x1="189.5" y1="175.12" x2="191.9" y2="175.12" stroke="#333" stroke-width="0.9"/>
<text x="188.7" y="176.97" class="tk" text-anchor="end">40</text>
<line x1="189.5" y1="151.5" x2="191.9" y2="151.5" stroke="#333" stroke-width="0.9"/>
<text x="188.7" y="153.35" class="tk" text-anchor="end">60</text>
<text x="263.85" y="143.8" class="ttl" text-anchor="middle" style="fill:#1a1a1a">2D</text>
<text x="262.65" y="264.1" class="axt" text-anchor="middle">TNC attenuation (HU)</text>
<text transform="translate(179.6,198.75) rotate(-90)" class="axt" text-anchor="middle">VNCpc attenuation (HU)</text>
<text x="177.5" y="264.3" class="lbl">f</text>
<text x="326.6" y="233.4" class="rt" text-anchor="end"><tspan font-style="italic">r</tspan> = 0.755</text>
<text x="328.3" y="239.8" class="rt" text-anchor="end"><tspan font-style="italic">R</tspan><tspan dy="-1.7" font-size="3.2">2</tspan><tspan dy="1.7"> = 0.570</tspan></text>
<line x1="401.12" y1="151.5" x2="401.12" y2="246" stroke="#e8e8e8" stroke-width="0.7"/>
<line x1="436.75" y1="151.5" x2="436.75" y2="246" stroke="#e8e8e8" stroke-width="0.7"/>
<line x1="472.38" y1="151.5" x2="472.38" y2="246" stroke="#e8e8e8" stroke-width="0.7"/>
<line x1="365.5" y1="214.5" x2="508" y2="214.5" stroke="#e8e8e8" stroke-width="0.7"/>
<line x1="365.5" y1="183" x2="508" y2="183" stroke="#e8e8e8" stroke-width="0.7"/>
<line x1="388.8" y1="230.5" x2="473.5" y2="180.0" stroke="#222" stroke-width="0.7"/>
<circle cx="429.9" cy="183.0" r="2.0" fill="#62a4f4" stroke="#33394a" stroke-width="0.55"/>
<circle cx="430.5" cy="192.4" r="2.0" fill="#62a4f4" stroke="#33394a" stroke-width="0.55"/>
<circle cx="412.0" cy="194.5" r="2.0" fill="#62a4f4" stroke="#33394a" stroke-width="0.55"/>
<circle cx="410.8" cy="199.4" r="2.0" fill="#62a4f4" stroke="#33394a" stroke-width="0.55"/>
<circle cx="403.3" cy="205.5" r="2.0" fill="#62a4f4" stroke="#33394a" stroke-width="0.55"/>
<circle cx="412.9" cy="207.8" r="2.0" fill="#62a4f4" stroke="#33394a" stroke-width="0.55"/>
<circle cx="399.7" cy="212.5" r="2.0" fill="#62a4f4" stroke="#33394a" stroke-width="0.55"/>
<circle cx="399.6" cy="215.2" r="2.0" fill="#62a4f4" stroke="#33394a" stroke-width="0.55"/>
<circle cx="403.3" cy="211.1" r="2.0" fill="#62a4f4" stroke="#33394a" stroke-width="0.55"/>
<circle cx="407.0" cy="211.1" r="2.0" fill="#62a4f4" stroke="#33394a" stroke-width="0.55"/>
<circle cx="410.4" cy="211.1" r="2.0" fill="#62a4f4" stroke="#33394a" stroke-width="0.55"/>
<circle cx="408.7" cy="216.2" r="2.0" fill="#62a4f4" stroke="#33394a" stroke-width="0.55"/>
<circle cx="394.5" cy="218.1" r="2.0" fill="#62a4f4" stroke="#33394a" stroke-width="0.55"/>
<circle cx="403.0" cy="220.3" r="2.0" fill="#62a4f4" stroke="#33394a" stroke-width="0.55"/>
<circle cx="437.2" cy="194.8" r="2.0" fill="#62a4f4" stroke="#33394a" stroke-width="0.55"/>
<circle cx="439.2" cy="193.6" r="2.0" fill="#62a4f4" stroke="#33394a" stroke-width="0.55"/>
<circle cx="426.0" cy="199.0" r="2.0" fill="#62a4f4" stroke="#33394a" stroke-width="0.55"/>
<circle cx="433.3" cy="200.1" r="2.0" fill="#62a4f4" stroke="#33394a" stroke-width="0.55"/>
<circle cx="421.2" cy="204.2" r="2.0" fill="#62a4f4" stroke="#33394a" stroke-width="0.55"/>
<circle cx="421.2" cy="206.8" r="2.0" fill="#62a4f4" stroke="#33394a" stroke-width="0.55"/>
<circle cx="420.1" cy="209.8" r="2.0" fill="#62a4f4" stroke="#33394a" stroke-width="0.55"/>
<circle cx="423.2" cy="208.7" r="2.0" fill="#62a4f4" stroke="#33394a" stroke-width="0.55"/>
<circle cx="423.2" cy="212.1" r="2.0" fill="#62a4f4" stroke="#33394a" stroke-width="0.55"/>
<circle cx="425.7" cy="212.1" r="2.0" fill="#62a4f4" stroke="#33394a" stroke-width="0.55"/>
<circle cx="429.0" cy="211.0" r="2.0" fill="#62a4f4" stroke="#33394a" stroke-width="0.55"/>
<circle cx="432.9" cy="207.0" r="2.0" fill="#62a4f4" stroke="#33394a" stroke-width="0.55"/>
<circle cx="437.8" cy="206.4" r="2.0" fill="#62a4f4" stroke="#33394a" stroke-width="0.55"/>
<circle cx="417.3" cy="215.6" r="2.0" fill="#62a4f4" stroke="#33394a" stroke-width="0.55"/>
<circle cx="417.3" cy="219.4" r="2.0" fill="#62a4f4" stroke="#33394a" stroke-width="0.55"/>
<circle cx="401.8" cy="225.3" r="2.0" fill="#62a4f4" stroke="#33394a" stroke-width="0.55"/>
<circle cx="413.8" cy="223.7" r="2.0" fill="#62a4f4" stroke="#33394a" stroke-width="0.55"/>
<circle cx="416.4" cy="225.7" r="2.0" fill="#62a4f4" stroke="#33394a" stroke-width="0.55"/>
<circle cx="413.5" cy="227.5" r="2.0" fill="#62a4f4" stroke="#33394a" stroke-width="0.55"/>
<circle cx="415.1" cy="232.1" r="2.0" fill="#62a4f4" stroke="#33394a" stroke-width="0.55"/>
<circle cx="413.5" cy="234.9" r="2.0" fill="#62a4f4" stroke="#33394a" stroke-width="0.55"/>
<circle cx="422.1" cy="232.6" r="2.0" fill="#62a4f4" stroke="#33394a" stroke-width="0.55"/>
<circle cx="395.3" cy="232.9" r="2.0" fill="#62a4f4" stroke="#33394a" stroke-width="0.55"/>
<circle cx="389.0" cy="234.9" r="2.0" fill="#62a4f4" stroke="#33394a" stroke-width="0.55"/>
<circle cx="405.8" cy="235.1" r="2.0" fill="#62a4f4" stroke="#33394a" stroke-width="0.55"/>
<circle cx="406.6" cy="240.6" r="2.0" fill="#62a4f4" stroke="#33394a" stroke-width="0.55"/>
<circle cx="468.1" cy="164.9" r="2.0" fill="#62a4f4" stroke="#33394a" stroke-width="0.55"/>
<circle cx="467.3" cy="166.7" r="2.0" fill="#62a4f4" stroke="#33394a" stroke-width="0.55"/>
<circle cx="469.0" cy="168.2" r="2.0" fill="#62a4f4" stroke="#33394a" stroke-width="0.55"/>
<circle cx="454.7" cy="180.3" r="2.0" fill="#62a4f4" stroke="#33394a" stroke-width="0.55"/>
<circle cx="451.0" cy="185.0" r="2.0" fill="#62a4f4" stroke="#33394a" stroke-width="0.55"/>
<circle cx="441.5" cy="187.5" r="2.0" fill="#62a4f4" stroke="#33394a" stroke-width="0.55"/>
<circle cx="445.3" cy="191.9" r="2.0" fill="#62a4f4" stroke="#33394a" stroke-width="0.55"/>
<circle cx="442.2" cy="197.1" r="2.0" fill="#62a4f4" stroke="#33394a" stroke-width="0.55"/>
<circle cx="453.0" cy="193.2" r="2.0" fill="#62a4f4" stroke="#33394a" stroke-width="0.55"/>
<circle cx="458.2" cy="191.6" r="2.0" fill="#62a4f4" stroke="#33394a" stroke-width="0.55"/>
<circle cx="456.9" cy="194.5" r="2.0" fill="#62a4f4" stroke="#33394a" stroke-width="0.55"/>
<circle cx="465.3" cy="187.7" r="2.0" fill="#62a4f4" stroke="#33394a" stroke-width="0.55"/>
<circle cx="474.2" cy="177.9" r="2.0" fill="#62a4f4" stroke="#33394a" stroke-width="0.55"/>
<circle cx="470.5" cy="181.2" r="2.0" fill="#62a4f4" stroke="#33394a" stroke-width="0.55"/>
<circle cx="474.1" cy="184.3" r="2.0" fill="#62a4f4" stroke="#33394a" stroke-width="0.55"/>
<circle cx="470.6" cy="192.1" r="2.0" fill="#62a4f4" stroke="#33394a" stroke-width="0.55"/>
<circle cx="468.0" cy="195.0" r="2.0" fill="#62a4f4" stroke="#33394a" stroke-width="0.55"/>
<circle cx="445.3" cy="202.0" r="2.0" fill="#62a4f4" stroke="#33394a" stroke-width="0.55"/>
<circle cx="452.6" cy="203.0" r="2.0" fill="#62a4f4" stroke="#33394a" stroke-width="0.55"/>
<circle cx="451.1" cy="206.5" r="2.0" fill="#62a4f4" stroke="#33394a" stroke-width="0.55"/>
<circle cx="461.8" cy="202.0" r="2.0" fill="#62a4f4" stroke="#33394a" stroke-width="0.55"/>
<circle cx="427.9" cy="219.3" r="2.0" fill="#62a4f4" stroke="#33394a" stroke-width="0.55"/>
<circle cx="431.4" cy="219.3" r="2.0" fill="#62a4f4" stroke="#33394a" stroke-width="0.55"/>
<circle cx="435.3" cy="219.3" r="2.0" fill="#62a4f4" stroke="#33394a" stroke-width="0.55"/>
<path d="M365.5 151.5H508V246H365.5Z" fill="none" stroke="#333" stroke-width="1"/>
<line x1="365.5" y1="246" x2="365.5" y2="248.4" stroke="#333" stroke-width="0.9"/>
<text x="365.7" y="254.2" class="tk" text-anchor="middle">-20</text>
<line x1="401.12" y1="246" x2="401.12" y2="248.4" stroke="#333" stroke-width="0.9"/>
<text x="401.32" y="254.2" class="tk" text-anchor="middle">0</text>
<line x1="436.75" y1="246" x2="436.75" y2="248.4" stroke="#333" stroke-width="0.9"/>
<text x="436.95" y="254.2" class="tk" text-anchor="middle">20</text>
<line x1="472.38" y1="246" x2="472.38" y2="248.4" stroke="#333" stroke-width="0.9"/>
<text x="472.57" y="254.2" class="tk" text-anchor="middle">40</text>
<line x1="508" y1="246" x2="508" y2="248.4" stroke="#333" stroke-width="0.9"/>
<text x="508.2" y="254.2" class="tk" text-anchor="middle">60</text>
<line x1="363.1" y1="246" x2="365.5" y2="246" stroke="#333" stroke-width="0.9"/>
<text x="362.3" y="247.85" class="tk" text-anchor="end">0</text>
<line x1="363.1" y1="214.5" x2="365.5" y2="214.5" stroke="#333" stroke-width="0.9"/>
<text x="362.3" y="216.35" class="tk" text-anchor="end">20</text>
<line x1="363.1" y1="183" x2="365.5" y2="183" stroke="#333" stroke-width="0.9"/>
<text x="362.3" y="184.85" class="tk" text-anchor="end">40</text>
<line x1="363.1" y1="151.5" x2="365.5" y2="151.5" stroke="#333" stroke-width="0.9"/>
<text x="362.3" y="153.35" class="tk" text-anchor="end">60</text>
<text x="437.65" y="143.8" class="ttl" text-anchor="middle" style="fill:#1a1a1a">3D</text>
<text x="436.45" y="264.1" class="axt" text-anchor="middle">TNC attenuation (HU)</text>
<text transform="translate(353.2,198.75) rotate(-90)" class="axt" text-anchor="middle">VNCconv attenuation (HU)</text>
<text x="352.7" y="264.3" class="lbl">g</text>
<text x="500.6" y="233.4" class="rt" text-anchor="end"><tspan font-style="italic">r</tspan> = 0.799</text>
<text x="502.3" y="239.8" class="rt" text-anchor="end"><tspan font-style="italic">R</tspan><tspan dy="-1.7" font-size="3.2">2</tspan><tspan dy="1.7"> = 0.638</tspan></text>
<line x1="575" y1="151.5" x2="575" y2="246" stroke="#e8e8e8" stroke-width="0.7"/>
<line x1="610.5" y1="151.5" x2="610.5" y2="246" stroke="#e8e8e8" stroke-width="0.7"/>
<line x1="646" y1="151.5" x2="646" y2="246" stroke="#e8e8e8" stroke-width="0.7"/>
<line x1="539.5" y1="214.5" x2="681.5" y2="214.5" stroke="#e8e8e8" stroke-width="0.7"/>
<line x1="539.5" y1="183" x2="681.5" y2="183" stroke="#e8e8e8" stroke-width="0.7"/>
<line x1="562.8" y1="233.0" x2="648.0" y2="180.6" stroke="#222" stroke-width="0.7"/>
<circle cx="585.6" cy="195.3" r="2.0" fill="#62a4f4" stroke="#33394a" stroke-width="0.55"/>
<circle cx="603.4" cy="195.3" r="2.0" fill="#62a4f4" stroke="#33394a" stroke-width="0.55"/>
<circle cx="640.8" cy="168.1" r="2.0" fill="#62a4f4" stroke="#33394a" stroke-width="0.55"/>
<circle cx="642.3" cy="168.3" r="2.0" fill="#62a4f4" stroke="#33394a" stroke-width="0.55"/>
<circle cx="642.3" cy="173.3" r="2.0" fill="#62a4f4" stroke="#33394a" stroke-width="0.55"/>
<circle cx="612.8" cy="179.2" r="2.0" fill="#62a4f4" stroke="#33394a" stroke-width="0.55"/>
<circle cx="615.3" cy="177.9" r="2.0" fill="#62a4f4" stroke="#33394a" stroke-width="0.55"/>
<circle cx="628.2" cy="184.4" r="2.0" fill="#62a4f4" stroke="#33394a" stroke-width="0.55"/>
<circle cx="641.6" cy="184.4" r="2.0" fill="#62a4f4" stroke="#33394a" stroke-width="0.55"/>
<circle cx="646.7" cy="181.0" r="2.0" fill="#62a4f4" stroke="#33394a" stroke-width="0.55"/>
<circle cx="648.2" cy="181.3" r="2.0" fill="#62a4f4" stroke="#33394a" stroke-width="0.55"/>
<circle cx="648.0" cy="185.9" r="2.0" fill="#62a4f4" stroke="#33394a" stroke-width="0.55"/>
<circle cx="644.3" cy="189.0" r="2.0" fill="#62a4f4" stroke="#33394a" stroke-width="0.55"/>
<circle cx="638.5" cy="188.8" r="2.0" fill="#62a4f4" stroke="#33394a" stroke-width="0.55"/>
<circle cx="630.6" cy="188.8" r="2.0" fill="#62a4f4" stroke="#33394a" stroke-width="0.55"/>
<circle cx="631.8" cy="192.2" r="2.0" fill="#62a4f4" stroke="#33394a" stroke-width="0.55"/>
<circle cx="624.5" cy="193.7" r="2.0" fill="#62a4f4" stroke="#33394a" stroke-width="0.55"/>
<circle cx="619.0" cy="193.8" r="2.0" fill="#62a4f4" stroke="#33394a" stroke-width="0.55"/>
<circle cx="611.0" cy="190.5" r="2.0" fill="#62a4f4" stroke="#33394a" stroke-width="0.55"/>
<circle cx="641.7" cy="193.7" r="2.0" fill="#62a4f4" stroke="#33394a" stroke-width="0.55"/>
<circle cx="615.8" cy="198.4" r="2.0" fill="#62a4f4" stroke="#33394a" stroke-width="0.55"/>
<circle cx="584.2" cy="199.6" r="2.0" fill="#62a4f4" stroke="#33394a" stroke-width="0.55"/>
<circle cx="579.8" cy="206.3" r="2.0" fill="#62a4f4" stroke="#33394a" stroke-width="0.55"/>
<circle cx="583.7" cy="208.2" r="2.0" fill="#62a4f4" stroke="#33394a" stroke-width="0.55"/>
<circle cx="573.0" cy="209.4" r="2.0" fill="#62a4f4" stroke="#33394a" stroke-width="0.55"/>
<circle cx="576.4" cy="212.7" r="2.0" fill="#62a4f4" stroke="#33394a" stroke-width="0.55"/>
<circle cx="577.0" cy="214.4" r="2.0" fill="#62a4f4" stroke="#33394a" stroke-width="0.55"/>
<circle cx="579.4" cy="217.5" r="2.0" fill="#62a4f4" stroke="#33394a" stroke-width="0.55"/>
<circle cx="573.2" cy="220.4" r="2.0" fill="#62a4f4" stroke="#33394a" stroke-width="0.55"/>
<circle cx="576.5" cy="220.7" r="2.0" fill="#62a4f4" stroke="#33394a" stroke-width="0.55"/>
<circle cx="586.5" cy="219.0" r="2.0" fill="#62a4f4" stroke="#33394a" stroke-width="0.55"/>
<circle cx="590.9" cy="219.1" r="2.0" fill="#62a4f4" stroke="#33394a" stroke-width="0.55"/>
<circle cx="594.7" cy="206.4" r="2.0" fill="#62a4f4" stroke="#33394a" stroke-width="0.55"/>
<circle cx="599.4" cy="208.1" r="2.0" fill="#62a4f4" stroke="#33394a" stroke-width="0.55"/>
<circle cx="596.4" cy="209.7" r="2.0" fill="#62a4f4" stroke="#33394a" stroke-width="0.55"/>
<circle cx="593.4" cy="210.7" r="2.0" fill="#62a4f4" stroke="#33394a" stroke-width="0.55"/>
<circle cx="598.7" cy="212.4" r="2.0" fill="#62a4f4" stroke="#33394a" stroke-width="0.55"/>
<circle cx="596.1" cy="214.4" r="2.0" fill="#62a4f4" stroke="#33394a" stroke-width="0.55"/>
<circle cx="606.8" cy="200.2" r="2.0" fill="#62a4f4" stroke="#33394a" stroke-width="0.55"/>
<circle cx="618.9" cy="204.7" r="2.0" fill="#62a4f4" stroke="#33394a" stroke-width="0.55"/>
<circle cx="611.3" cy="206.6" r="2.0" fill="#62a4f4" stroke="#33394a" stroke-width="0.55"/>
<circle cx="606.6" cy="208.2" r="2.0" fill="#62a4f4" stroke="#33394a" stroke-width="0.55"/>
<circle cx="604.8" cy="211.3" r="2.0" fill="#62a4f4" stroke="#33394a" stroke-width="0.55"/>
<circle cx="604.6" cy="217.4" r="2.0" fill="#62a4f4" stroke="#33394a" stroke-width="0.55"/>
<circle cx="601.7" cy="220.0" r="2.0" fill="#62a4f4" stroke="#33394a" stroke-width="0.55"/>
<circle cx="608.8" cy="222.5" r="2.0" fill="#62a4f4" stroke="#33394a" stroke-width="0.55"/>
<circle cx="626.4" cy="219.3" r="2.0" fill="#62a4f4" stroke="#33394a" stroke-width="0.55"/>
<circle cx="602.7" cy="236.1" r="2.0" fill="#62a4f4" stroke="#33394a" stroke-width="0.55"/>
<circle cx="624.5" cy="208.1" r="2.0" fill="#62a4f4" stroke="#33394a" stroke-width="0.55"/>
<circle cx="626.4" cy="201.2" r="2.0" fill="#62a4f4" stroke="#33394a" stroke-width="0.55"/>
<circle cx="635.3" cy="200.1" r="2.0" fill="#62a4f4" stroke="#33394a" stroke-width="0.55"/>
<circle cx="643.7" cy="203.4" r="2.0" fill="#62a4f4" stroke="#33394a" stroke-width="0.55"/>
<circle cx="575.2" cy="222.9" r="2.0" fill="#62a4f4" stroke="#33394a" stroke-width="0.55"/>
<circle cx="582.6" cy="222.6" r="2.0" fill="#62a4f4" stroke="#33394a" stroke-width="0.55"/>
<circle cx="590.2" cy="223.5" r="2.0" fill="#62a4f4" stroke="#33394a" stroke-width="0.55"/>
<circle cx="591.1" cy="226.7" r="2.0" fill="#62a4f4" stroke="#33394a" stroke-width="0.55"/>
<circle cx="587.3" cy="228.6" r="2.0" fill="#62a4f4" stroke="#33394a" stroke-width="0.55"/>
<circle cx="567.9" cy="231.8" r="2.0" fill="#62a4f4" stroke="#33394a" stroke-width="0.55"/>
<circle cx="568.9" cy="234.1" r="2.0" fill="#62a4f4" stroke="#33394a" stroke-width="0.55"/>
<circle cx="596.2" cy="233.3" r="2.0" fill="#62a4f4" stroke="#33394a" stroke-width="0.55"/>
<circle cx="588.6" cy="236.6" r="2.0" fill="#62a4f4" stroke="#33394a" stroke-width="0.55"/>
<circle cx="587.3" cy="238.4" r="2.0" fill="#62a4f4" stroke="#33394a" stroke-width="0.55"/>
<circle cx="587.3" cy="241.3" r="2.0" fill="#62a4f4" stroke="#33394a" stroke-width="0.55"/>
<circle cx="562.3" cy="244.5" r="2.0" fill="#62a4f4" stroke="#33394a" stroke-width="0.55"/>
<circle cx="580.1" cy="246.0" r="2.0" fill="#62a4f4" stroke="#33394a" stroke-width="0.55"/>
<path d="M539.5 151.5H681.5V246H539.5Z" fill="none" stroke="#333" stroke-width="1"/>
<line x1="539.5" y1="246" x2="539.5" y2="248.4" stroke="#333" stroke-width="0.9"/>
<text x="539.7" y="254.2" class="tk" text-anchor="middle">-20</text>
<line x1="575" y1="246" x2="575" y2="248.4" stroke="#333" stroke-width="0.9"/>
<text x="575.2" y="254.2" class="tk" text-anchor="middle">0</text>
<line x1="610.5" y1="246" x2="610.5" y2="248.4" stroke="#333" stroke-width="0.9"/>
<text x="610.7" y="254.2" class="tk" text-anchor="middle">20</text>
<line x1="646" y1="246" x2="646" y2="248.4" stroke="#333" stroke-width="0.9"/>
<text x="646.2" y="254.2" class="tk" text-anchor="middle">40</text>
<line x1="681.5" y1="246" x2="681.5" y2="248.4" stroke="#333" stroke-width="0.9"/>
<text x="681.7" y="254.2" class="tk" text-anchor="middle">60</text>
<line x1="537.1" y1="246" x2="539.5" y2="246" stroke="#333" stroke-width="0.9"/>
<text x="536.3" y="247.85" class="tk" text-anchor="end">0</text>
<line x1="537.1" y1="214.5" x2="539.5" y2="214.5" stroke="#333" stroke-width="0.9"/>
<text x="536.3" y="216.35" class="tk" text-anchor="end">20</text>
<line x1="537.1" y1="183" x2="539.5" y2="183" stroke="#333" stroke-width="0.9"/>
<text x="536.3" y="184.85" class="tk" text-anchor="end">40</text>
<line x1="537.1" y1="151.5" x2="539.5" y2="151.5" stroke="#333" stroke-width="0.9"/>
<text x="536.3" y="153.35" class="tk" text-anchor="end">60</text>
<text x="611.4" y="143.8" class="ttl" text-anchor="middle" style="fill:#1a1a1a">3D</text>
<text x="610.2" y="264.1" class="axt" text-anchor="middle">TNC attenuation (HU)</text>
<text transform="translate(527.2,198.75) rotate(-90)" class="axt" text-anchor="middle">VNCpc attenuation (HU)</text>
<text x="524.1" y="264.3" class="lbl">h</text>
<text x="674.1" y="233.4" class="rt" text-anchor="end"><tspan font-style="italic">r</tspan> = 0.757</text>
<text x="675.8" y="239.8" class="rt" text-anchor="end"><tspan font-style="italic">R</tspan><tspan dy="-1.7" font-size="3.2">2</tspan><tspan dy="1.7"> = 0.572</tspan></text>
</svg>
</body></html>
